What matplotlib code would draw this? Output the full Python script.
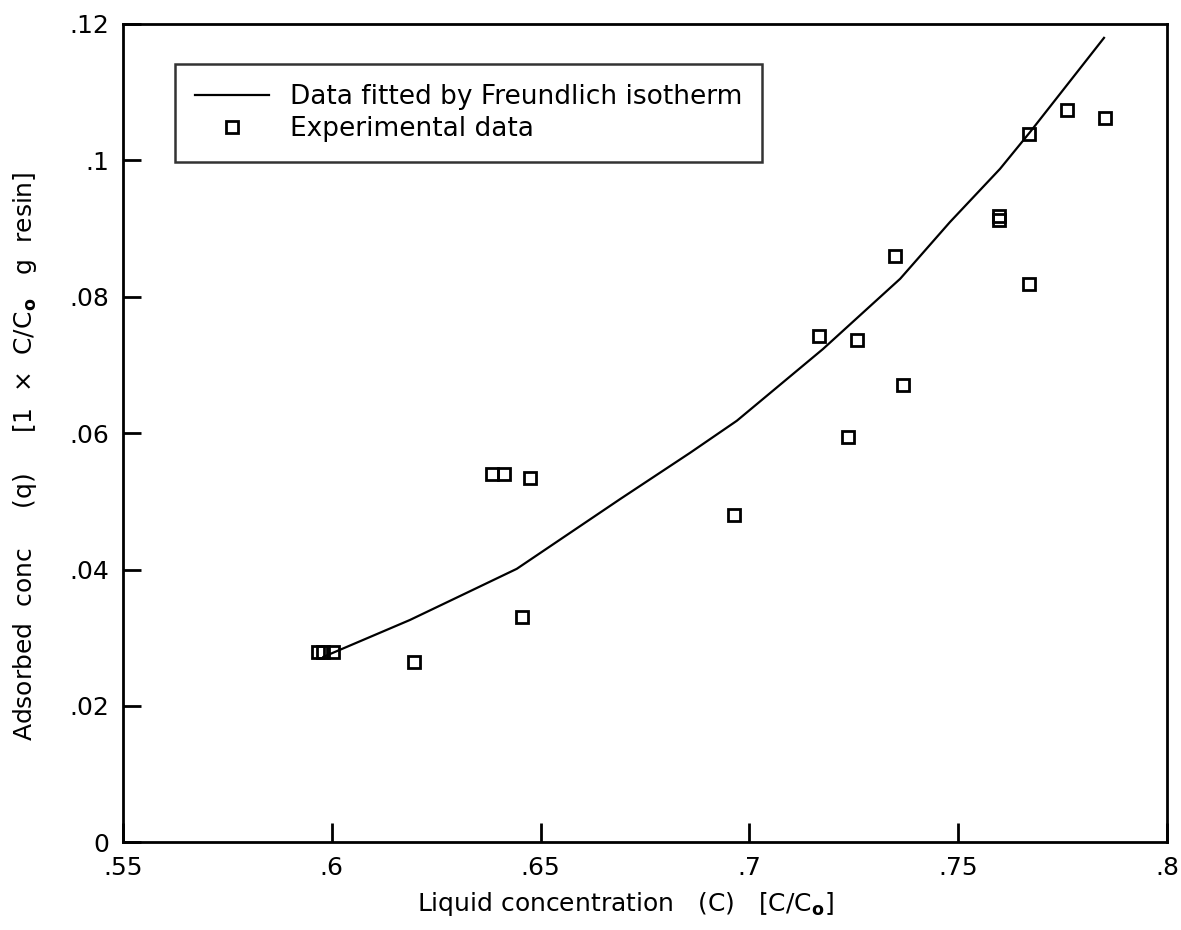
import matplotlib
matplotlib.use('Agg')
import matplotlib.pyplot as plt

# experimental points
c_exp = [0.5966, 0.5980, 0.6002, 0.6197, 0.6383, 0.6413, 0.6475, 0.6455, 0.6963, 0.7167,
         0.7236, 0.7258, 0.7349, 0.7368, 0.7598, 0.7598, 0.7670, 0.7670, 0.7761, 0.7852]
q_exp = [0.0279, 0.0279, 0.0279, 0.0264, 0.0540, 0.0540, 0.0534, 0.0331, 0.0480, 0.0742,
         0.0594, 0.0737, 0.0860, 0.0670, 0.0912, 0.0918, 0.1038, 0.0818, 0.1074, 0.1061]

# Freundlich fitted line
c_fit = [0.598, 0.6187, 0.631, 0.6443, 0.669, 0.6858, 0.697, 0.7176, 0.7361, 0.748, 0.760, 0.7672, 0.7849]
q_fit = [0.0272, 0.0326, 0.0362, 0.0401, 0.0503, 0.0571, 0.0618, 0.0723, 0.0826, 0.0909, 0.0987, 0.1041, 0.1179]

x_ticks = [0.55, 0.6, 0.65, 0.7, 0.75, 0.8]
x_labels = ['.55', '.6', '.65', '.7', '.75', '.8']
y_ticks = [0, 0.02, 0.04, 0.06, 0.08, 0.1, 0.12]
y_labels = ['0', '.02', '.04', '.06', '.08', '.1', '.12']

plt.rcParams['font.family'] = ['DejaVu Sans']

fig = plt.figure(figsize=(11.81, 9.30), dpi=100)
ax = fig.add_axes([0.1041, 0.0941, 0.8841, 0.8806])

ax.plot(c_fit, q_fit, color='black', linewidth=1.6, label='Data fitted by Freundlich isotherm')
ax.plot(c_exp, q_exp, linestyle='none', marker='s', markersize=9, markerfacecolor='none',
        markeredgecolor='black', markeredgewidth=2.0, label='Experimental data')

ax.set_xlim(0.55, 0.8)
ax.set_ylim(0, 0.12)
ax.set_xticks(x_ticks)
ax.set_xticklabels(x_labels)
ax.set_yticks(y_ticks)
ax.set_yticklabels(y_labels)
ax.tick_params(axis='x', direction='in', length=14, width=2, labelsize=18, pad=10)
ax.tick_params(axis='y', direction='in', length=13, width=2, labelsize=18, pad=10)
for s in ax.spines.values():
    s.set_linewidth(2)

ax.set_xlabel(r'Liquid concentration   (C)   [C/C$_\mathbf{o}$]', fontsize=18)
ax.xaxis.set_label_coords(0.481, -0.058)
ax.set_ylabel(r'Adsorbed  conc     (q)     [1  $\times$  C/C$_\mathbf{o}$   g  resin]',
              fontsize=18)
ax.yaxis.set_label_coords(-0.08, 0.472)

leg = ax.legend(loc='upper left', bbox_to_anchor=(0.0498, 0.9505), fontsize=19, frameon=True,
                fancybox=False, edgecolor='black', handlelength=2.8, borderpad=0.75,
                labelspacing=0.25, borderaxespad=0, handletextpad=0.8)
leg.get_frame().set_linewidth(1.8)

fig.savefig('out.png', dpi=100)
